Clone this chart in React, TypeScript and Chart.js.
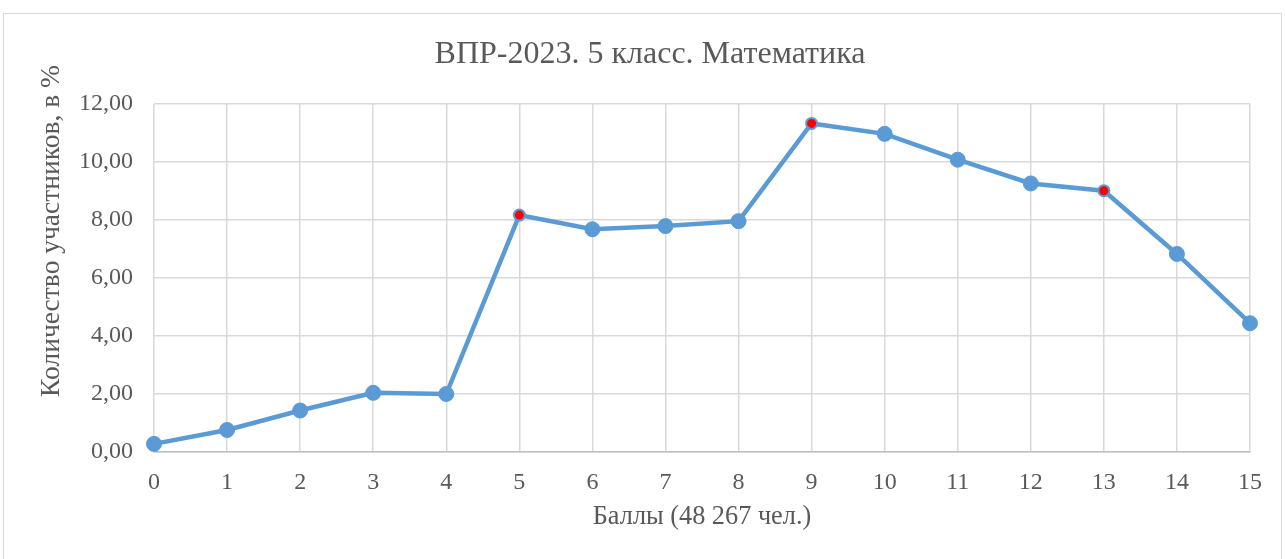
import React, { useEffect, useRef } from "react";
import { Chart, registerables } from "chart.js";

Chart.register(...registerables);

const categories = ["0", "1", "2", "3", "4", "5", "6", "7", "8", "9", "10", "11", "12", "13", "14", "15"];
const percentValues = [0.28, 0.76, 1.43, 2.04, 2.0, 8.17, 7.68, 7.79, 7.96, 11.33, 10.97, 10.08, 9.26, 9.01, 6.83, 4.44];
const highlightedScores = ["5", "9", "13"];
const yTickLabels = ["0,00", "2,00", "4,00", "6,00", "8,00", "10,00", "12,00"];
const chartTitle = "ВПР-2023. 5 класс. Математика";
const xAxisTitle = "Баллы (48 267 чел.)";
const yAxisTitle = "Количество участников, в %";

const FONT = "'Liberation Serif', 'Times New Roman', serif";
const TEXT = "#595959";
const BLUE = "#5b9bd5";
const GRID = "#d9d9d9";

export default function App() {
  const ref = useRef<HTMLCanvasElement | null>(null);

  useEffect(() => {
    if (!ref.current) return;
    const isHi = categories.map((c) => highlightedScores.includes(c));

    const textPlugin = {
      id: "texts",
      afterDraw(chart: any) {
        const ctx = chart.ctx;
        ctx.save();
        ctx.fillStyle = TEXT;
        ctx.textAlign = "center";
        ctx.textBaseline = "middle";
        ctx.font = `32px ${FONT}`;
        ctx.fillText(chartTitle, 650, 55);
        ctx.translate(52, 231);
        ctx.rotate(-Math.PI / 2);
        ctx.font = `27.5px ${FONT}`;
        ctx.fillText(yAxisTitle, 0, 0);
        ctx.restore();
      },
    };

    const bgPlugin = {
      id: "bg",
      beforeDraw(chart: any) {
        const ctx = chart.ctx;
        ctx.save();
        ctx.fillStyle = "#ffffff";
        ctx.fillRect(0, 0, chart.width, chart.height);
        ctx.restore();
      },
    };

    const chart = new Chart(ref.current, {
      type: "line",
      data: {
        labels: categories,
        datasets: [
          {
            data: percentValues,
            borderColor: BLUE,
            borderWidth: 4.5,
            pointBackgroundColor: isHi.map((h) => (h ? "#ff0000" : BLUE)),
            pointBorderColor: BLUE,
            pointBorderWidth: isHi.map((h) => (h ? 2 : 1)),
            pointRadius: isHi.map((h) => (h ? 5.5 : 7.5)),
            tension: 0,
          },
        ],
      },
      options: {
        responsive: false,
        animation: false,
        layout: { padding: { left: 0, right: 35, top: 104, bottom: 0 } },
        plugins: {
          legend: { display: false },
          tooltip: { enabled: false },
          title: { display: false },
        },
        scales: {
          x: {
            offset: false,
            grid: { color: GRID, lineWidth: 1.5, drawTicks: false },
            border: { color: "#bfbfbf", width: 1.5 },
            ticks: { color: TEXT, font: { family: FONT, size: 24 }, padding: 16.5, maxRotation: 0 },
            title: {
              display: true,
              text: xAxisTitle,
              color: TEXT,
              font: { family: FONT, size: 26.3 },
              padding: { top: 0, bottom: 26.5 },
            },
            afterFit: (s: any) => {
              s.height = 107;
            },
          },
          y: {
            min: 0,
            max: 12,
            grid: { color: GRID, lineWidth: 1.5, drawTicks: false },
            border: { display: false },
            ticks: {
              stepSize: 2,
              color: TEXT,
              font: { family: FONT, size: 24 },
              padding: 21,
              callback: (_v: any, i: number) => yTickLabels[i],
            },
            afterFit: (s: any) => {
              s.width = 154;
            },
          },
        },
      },
      plugins: [bgPlugin, textPlugin],
    });
    return () => chart.destroy();
  }, []);

  return (
    <div style={{ position: "absolute", left: 0, top: 0, width: 1285, height: 559, overflow: "hidden", background: "#fff" }}>
      <canvas ref={ref} width={1285} height={559} style={{ position: "absolute", left: 0, top: 0 }} />
      <div
        style={{
          position: "absolute",
          left: 3,
          top: 13,
          width: 1279,
          height: 560,
          border: "1px solid #d9d9d9",
          boxSizing: "border-box",
          pointerEvents: "none",
        }}
      />
    </div>
  );
}
